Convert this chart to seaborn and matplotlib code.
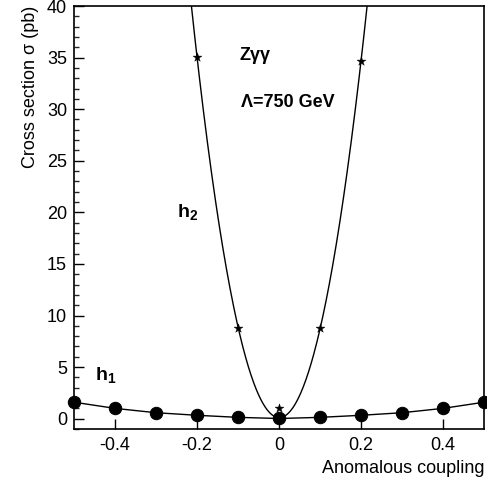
import numpy as np
import pandas as pd
import matplotlib
matplotlib.use('Agg')
import matplotlib.pyplot as plt
from matplotlib.ticker import MultipleLocator, FuncFormatter
import seaborn as sns

# h1 : cross section vs coupling (circles)
h1_x = [-0.5, -0.4, -0.3, -0.2, -0.1, 0.0, 0.1, 0.2, 0.3, 0.4, 0.5]
h1_y = [1.6, 1.0, 0.58, 0.33, 0.13, 0.02, 0.13, 0.33, 0.58, 1.0, 1.6]
# h2 : cross section vs coupling (stars)
h2_x = [-0.2, -0.1, 0.0, 0.1, 0.2]
h2_y = [35.1, 8.76, 1.0, 8.76, 34.66]
x_ticks = [-0.4, -0.2, 0, 0.2, 0.4]
y_ticks = [0, 5, 10, 15, 20, 25, 30, 35, 40]

sns.set_style('ticks')
plt.rcParams['font.family'] = ['Liberation Sans', 'DejaVu Sans']
plt.rcParams['mathtext.fontset'] = 'custom'
plt.rcParams['mathtext.rm'] = 'Liberation Sans'
plt.rcParams['mathtext.bf'] = 'Liberation Sans:bold'
plt.rcParams['axes.unicode_minus'] = False
plt.rcParams['text.color'] = 'black'
plt.rcParams['axes.labelcolor'] = 'black'

df1 = pd.DataFrame({'x': h1_x, 'y': h1_y})
df2 = pd.DataFrame({'x': h2_x, 'y': h2_y})

# parabola fitted through the h2 points (weights pull it to the outer points)
coef = np.polyfit(h2_x, h2_y, 2, w=[1, 1, 0.25, 1, 1])
xs = np.linspace(-0.25, 0.25, 400)
fit = pd.DataFrame({'x': xs, 'y': np.polyval(coef, xs)})

fig = plt.figure(figsize=(4.87, 4.84), dpi=100)
ax = fig.add_axes([0.152, 0.1136, 0.842, 0.874])

sns.lineplot(data=fit, x='x', y='y', color='black', lw=1.0, ax=ax, sort=False)
sns.lineplot(data=df1, x='x', y='y', color='black', lw=1.0, ax=ax)
sns.scatterplot(data=df1, x='x', y='y', color='black', marker='o', s=80,
                edgecolor='black', ax=ax, zorder=5, clip_on=False)
sns.scatterplot(data=df2, x='x', y='y', color='black', marker='*', s=45,
                edgecolor='black', linewidth=0.3, ax=ax, zorder=5)

ax.set_xlim(-0.5, 0.5)
ax.set_ylim(-1, 40)
ax.set_xticks(x_ticks)
ax.set_yticks(y_ticks)
ax.xaxis.set_major_formatter(FuncFormatter(lambda v, p: '0' if abs(v) < 1e-9 else f'{v:g}'))
ax.yaxis.set_minor_locator(MultipleLocator(1))
ax.tick_params(axis='both', which='major', direction='in', length=7, width=1,
               labelsize=13, colors='black', labelcolor='black')
ax.tick_params(axis='y', which='minor', direction='in', length=3.5, width=1)
ax.tick_params(axis='x', pad=6)
ax.tick_params(axis='y', pad=5)
for s in ax.spines.values():
    s.set_linewidth(1.2)
    s.set_color('black')

ax.set_xlabel('Anomalous coupling', fontsize=13, loc='right', labelpad=4)
ax.set_ylabel('Cross section σ (pb)', fontsize=13, loc='top', labelpad=6)

ax.text(-0.096, 35.2, 'Zγγ', fontsize=13, fontweight='bold', ha='left', va='center')
ax.text(-0.094, 30.6, 'Λ=750 GeV', fontsize=13, fontweight='bold', ha='left', va='center')
ax.text(-0.25, 20.0, r'$\mathbf{h_2}$', fontsize=14, ha='left', va='center')
ax.text(-0.45, 4.2, r'$\mathbf{h_1}$', fontsize=14, ha='left', va='center')

fig.savefig('out.png', dpi=100)
